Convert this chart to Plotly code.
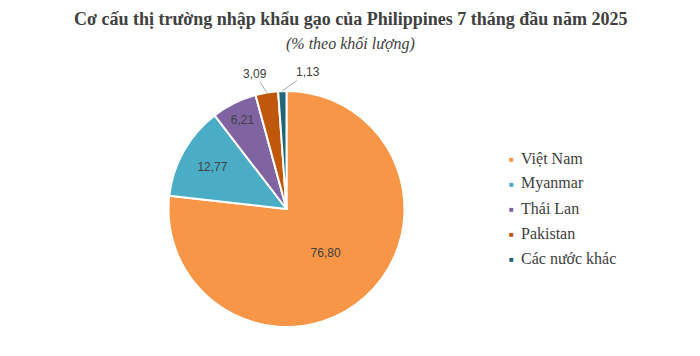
import math
import plotly.graph_objects as go

labels = ["Việt Nam", "Myanmar", "Thái Lan", "Pakistan", "Các nước khác"]
values = [76.80, 12.77, 6.21, 3.09, 1.13]
colors = ["#F79646", "#4BACC6", "#8064A2", "#C0580C", "#1F6577"]
inside = [True, True, True, False, False]

title = "Cơ cấu thị trường nhập khẩu gạo của Philippines 7 tháng đầu năm 2025"
subtitle = "(% theo khối lượng)"

W, H = 700, 356
cx, cy, R = 286.5, 209.0, 118.0  # pie centre/radius in pixels


def fmt(v):
    return f"{v:.2f}".replace(".", ",")


texts = [fmt(v) if ins else "" for v, ins in zip(values, inside)]

fig = go.Figure(go.Pie(
    labels=labels, values=values, sort=False, direction="clockwise", rotation=0,
    marker=dict(colors=colors, line=dict(color="white", width=2)),
    text=texts, textinfo="text", textposition="inside",
    insidetextorientation="horizontal",
    textfont=dict(family="Liberation Sans", size=12, color="#404040"),
    domain=dict(x=[(cx - R) / W, (cx + R) / W], y=[(H - cy - R) / H, (H - cy + R) / H]),
    showlegend=False, hoverinfo="label+value",
))

annotations = [
    dict(text=f"<b>{title}</b>", x=0.5, y=1 - 19 / H, xref="paper", yref="paper",
         yanchor="middle", showarrow=False,
         font=dict(family="Liberation Serif", size=18, color="#404040")),
    dict(text=subtitle, x=0.5, y=1 - 44 / H, xref="paper", yref="paper",
         yanchor="middle", showarrow=False,
         font=dict(family="Liberation Serif", size=16, color="#404040", style="italic")),
]

# outside labels with leader lines
total = sum(values)
cum = 0.0
label_offsets = {3: (-12, -19), 4: (26, -19)}
for i, v in enumerate(values):
    mid = (cum + v / 2) / total
    cum += v
    if inside[i]:
        continue
    ang = 2 * math.pi * mid
    px = cx + R * math.sin(ang)
    py = cy - R * math.cos(ang)
    dx, dy = label_offsets[i]
    annotations.append(dict(
        text=fmt(v), x=px / W, y=1 - py / H, xref="paper", yref="paper",
        showarrow=True, arrowhead=0, arrowwidth=1, arrowcolor="#A6A6A6",
        ax=dx, ay=dy, standoff=0, startstandoff=0,
        font=dict(family="Liberation Sans", size=12, color="#404040"),
    ))

# legend
lx, ly0, step = 511, 158, 25
for i, (lab, col) in enumerate(zip(labels, colors)):
    y = 1 - (ly0 + i * step) / H
    annotations.append(dict(text="■", x=lx / W, y=y, xref="paper", yref="paper",
                            xanchor="center", yanchor="middle", showarrow=False,
                            font=dict(size=8, color=col)))
    annotations.append(dict(text=lab, x=(lx + 8) / W, y=y, xref="paper", yref="paper",
                            xanchor="left", yanchor="middle", showarrow=False,
                            font=dict(family="Liberation Serif", size=16, color="#404040")))

fig.update_layout(
    width=W, height=H, margin=dict(l=0, r=0, t=0, b=0),
    paper_bgcolor="white", plot_bgcolor="white",
    annotations=annotations,
)
fig.write_html("out.html")
